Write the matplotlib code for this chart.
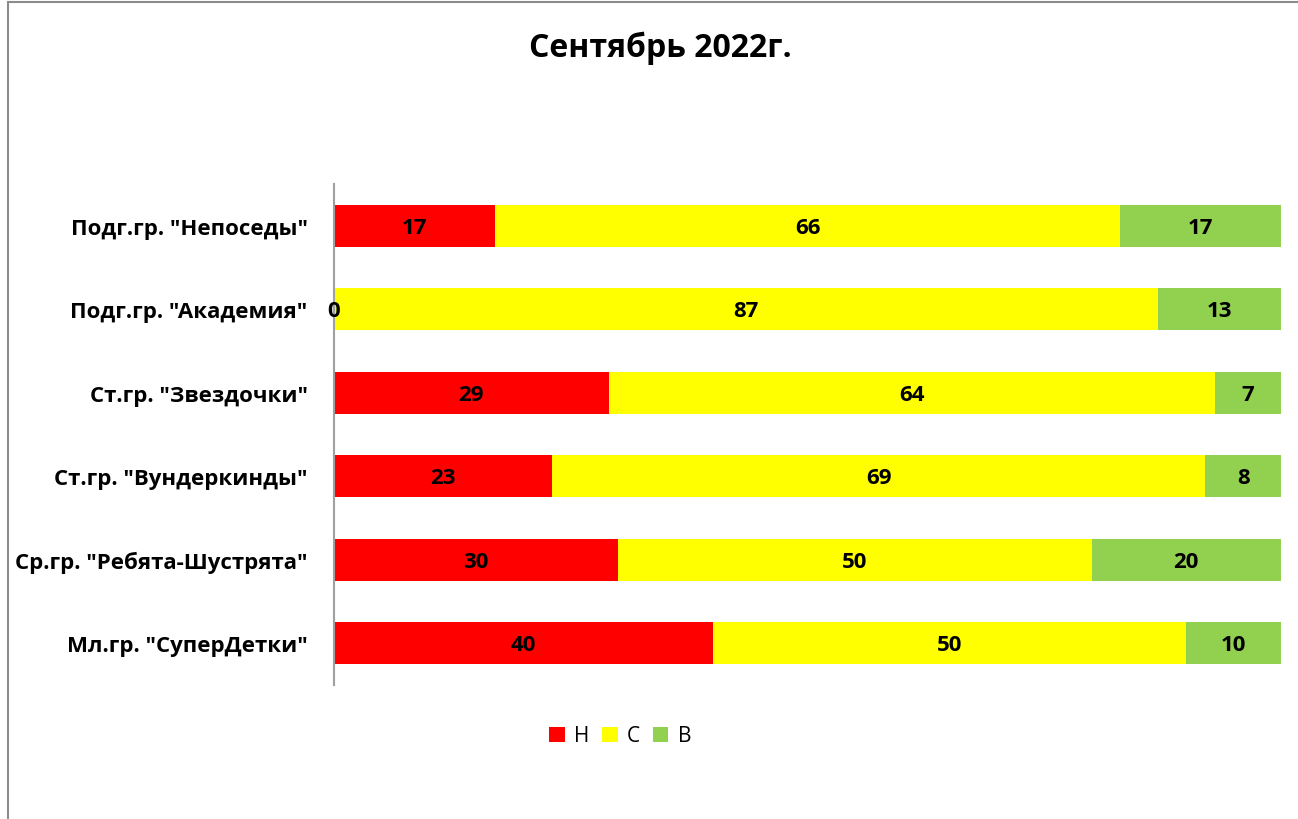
import matplotlib.pyplot as plt
from matplotlib.patches import Rectangle

groups = ['Подг.гр. "Непоседы"', 'Подг.гр. "Академия"', 'Ст.гр. "Звездочки"',
          'Ст.гр. "Вундеркинды"', 'Ср.гр. "Ребята-Шустрята"', 'Мл.гр. "СуперДетки"']
low = [17, 0, 29, 23, 30, 40]
mid = [66, 87, 64, 69, 50, 50]
high = [17, 13, 7, 8, 20, 10]

plt.rcParams['font.family'] = ['Open Sans', 'DejaVu Sans']

W, H = 1298, 820
fig = plt.figure(figsize=(W / 100, H / 100), dpi=100)
ax = fig.add_axes([334 / W, 1 - 686 / H, (1281 - 334) / W, (686 - 185) / H])

# chart frame
fig.patches.append(Rectangle((8 / W, -0.05), 1.1, 1 - 3 / H + 0.05, transform=fig.transFigure,
                             fill=False, edgecolor='#8c8c8c', linewidth=1.5))

y = list(range(len(groups)))
series = [('Н', low, '#ff0000'), ('С', mid, '#ffff00'), ('В', high, '#92d050')]
left = [0] * len(groups)
for name, vals, color in series:
    ax.barh(y, vals, left=left, height=0.5, color=color, label=name)
    for i, v in enumerate(vals):
        ax.text(left[i] + v / 2, i + 0.02, str(v), ha='center', va='center',
                fontsize=16, fontweight='bold', color='black')
    left = [a + b for a, b in zip(left, vals)]

ax.set_xlim(0, 100)
ax.set_ylim(5.5, -0.5)
ax.set_yticks(y)
ax.set_yticklabels(groups, fontsize=16, fontweight='bold')
ax.tick_params(axis='y', length=0, pad=19)
ax.set_xticks([])
for s in ['top', 'right', 'bottom']:
    ax.spines[s].set_visible(False)
ax.spines['left'].set_color('#a0a0a0')
ax.spines['left'].set_linewidth(1.5)

fig.text(660 / W, 1 - 48 / H, 'Сентябрь 2022г.', ha='center', va='center',
         fontsize=23, fontweight='bold')

fig.legend(loc='center', bbox_to_anchor=(620 / W, 1 - 737 / H), ncol=3, frameon=False,
           fontsize=15, handlelength=0.75, handleheight=0.75, handletextpad=0.45,
           columnspacing=0.6)

fig.savefig('out.png', dpi=100)
